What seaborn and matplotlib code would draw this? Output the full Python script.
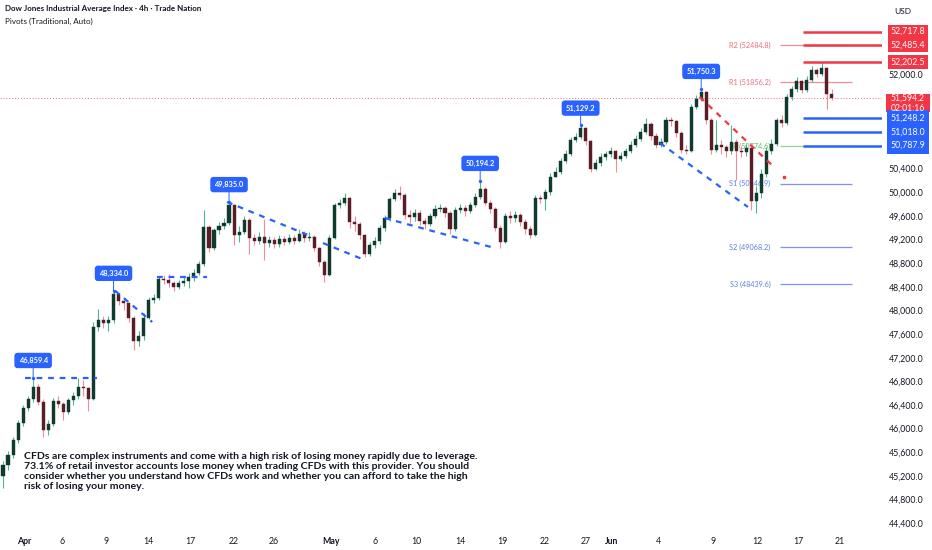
import matplotlib
matplotlib.use("Agg")
import matplotlib.pyplot as plt
import matplotlib.transforms as mtransforms
from matplotlib.patches import Rectangle
import numpy as np
import pandas as pd
import seaborn as sns

# candle data (resampled to ~3 bars per trading day)
first_open = 45200
closes = [
    45380, 45560, 45800, 46100, 46350, 46500, 46700, 46450, 45980, 46080,
    46470, 46420, 46280, 46480, 46560, 46700, 46680, 46500, 47720, 47830,
    47790, 47830, 48280, 48160, 48120, 47880, 47480, 47560, 47880, 48180,
    48210, 48540, 48510, 48470, 48390, 48460, 48500, 48560, 48640, 48780,
    49410, 49060, 49360, 49430, 49480, 49780, 49280, 49330, 49530, 49220,
    49170, 49250, 49140, 49190, 49120, 49200, 49160, 49230, 49180, 49300,
    49220, 49250, 49050, 48820, 48600, 49230, 49780, 49820, 49900, 49500,
    49460, 49280, 48960, 49100, 49170, 49400, 49560, 49880, 49990, 49960,
    49620, 49580, 49650, 49520, 49460, 49600, 49720, 49740, 49640, 49380,
    49700, 49740, 49680, 49780, 49920, 50050, 49820, 49720, 49400, 49160,
    49600, 49560, 49620, 49500, 49380, 49280, 49900, 49880, 50000, 50260,
    50340, 50530, 50650, 50880, 50930, 51080, 50860, 50400, 50500, 50600,
    50640, 50700, 50560, 50620, 50700, 50800, 50900, 51020, 51150, 50950,
    50800, 50850, 51220, 51200, 51000, 50720, 50700, 51450, 51580, 51700,
    51230, 50720, 50800, 50760, 50700, 50850, 50700, 50680, 50750, 49850,
    49990, 50300, 50700, 50820, 51220, 51170, 51610, 51750, 51880, 51730,
    51900, 52070, 52000, 52100, 51660, 51594.2,
]
highs = [
    45450, 45620, 45850, 46150, 46400, 46560, 46859.4, 46750, 46500, 46150,
    46520, 46550, 46450, 46520, 46620, 46850, 46820, 46700, 47800, 48020,
    47900, 47900, 48334.0, 48300, 48200, 48150, 47900, 47650, 47950, 48220,
    48280, 48580, 48600, 48620, 48500, 48520, 48580, 48640, 48700, 48830,
    49700, 49450, 49400, 49500, 49560, 49835.0, 49800, 49420, 49600, 49560,
    49300, 49320, 49550, 49260, 49240, 49280, 49260, 49300, 49280, 49380,
    49340, 49320, 49280, 49080, 48850, 49280, 49820, 49880, 49990, 49920,
    49600, 49500, 49300, 49150, 49250, 49450, 49620, 49920, 50050, 50100,
    49980, 49700, 49720, 49700, 49560, 49650, 49780, 49800, 49760, 49680,
    49750, 49800, 49780, 49830, 49980, 50194.2, 50080, 49860, 49750, 49450,
    49650, 49680, 49680, 49640, 49540, 49420, 49950, 49960, 50060, 50320,
    50420, 50580, 50720, 50930, 51000, 51129.2, 51100, 50880, 50560, 50660,
    50700, 50760, 50720, 50680, 50750, 50860, 50960, 51080, 51260, 51180,
    51000, 50920, 51280, 51280, 51230, 51030, 50800, 51500, 51640, 51750.3,
    51720, 51260, 51220, 50880, 50800, 51130, 50900, 50780, 50820, 50780,
    50100, 50400, 50760, 50900, 51260, 51300, 51660, 51800, 51950, 51900,
    51960, 52130, 52100, 52202.5, 52120, 51750,
]
lows = [
    45000, 45300, 45500, 45750, 46050, 46300, 46450, 46400, 45850, 45900,
    46050, 46350, 46150, 46250, 46400, 46500, 46550, 46300, 46480, 47650,
    47700, 47650, 47780, 48100, 48000, 47800, 47330, 47400, 47500, 47850,
    48120, 48180, 48450, 48400, 48330, 48360, 48420, 48380, 48500, 48600,
    48750, 48980, 49020, 49300, 49380, 49450, 49100, 49150, 49300, 48950,
    49100, 49120, 48850, 49080, 49050, 49080, 49100, 49120, 49120, 49150,
    49160, 49180, 49000, 48750, 48480, 48580, 49200, 49740, 49780, 49400,
    49350, 49200, 48900, 48920, 49050, 49120, 49350, 49520, 49850, 49880,
    49550, 49480, 49520, 49450, 49380, 49420, 49560, 49660, 49580, 49300,
    49350, 49650, 49600, 49640, 49750, 49880, 49780, 49650, 49350, 49060,
    49140, 49480, 49500, 49420, 49300, 49220, 49260, 49820, 49700, 49960,
    50250, 50300, 50500, 50620, 50850, 50900, 50800, 50350, 50380, 50450,
    50540, 50600, 50350, 50520, 50580, 50660, 50760, 50860, 50980, 50880,
    50740, 50760, 50820, 51120, 50940, 50660, 50640, 50680, 51400, 51540,
    51150, 50650, 50680, 50650, 50600, 50640, 50200, 50600, 50620, 49700,
    49650, 49900, 50250, 50650, 50780, 51100, 51140, 51560, 51700, 51680,
    51700, 51860, 51950, 51960, 51400, 51560,
]

# swing-high callouts (bar index, price)
peak_bars = [6, 22, 45, 95, 115, 139]
peak_prices = [46859.4, 48334.0, 49835.0, 50194.2, 51129.2, 51750.3]

# drawn trendlines: (bar0, price0, bar1, price1)
blue_trends = [
    (4.4, 46859.4, 18.7, 46859.4),
    (22.3, 48334.0, 29.7, 47804),
    (30.7, 48560, 40.6, 48560),
    (44.6, 49835.0, 61.7, 49242),
    (63.7, 49140, 71.5, 48870),
    (76.0, 49563, 97.9, 49056),
    (130.8, 50832, 148.3, 49750),
]
red_trends = [(138.7, 51611, 153.7, 50410)]
red_dot = (155.5, 50257)

# pivots (traditional)
pivot_names = ["R2", "R1", "P", "S1", "S2", "S3"]
pivot_values = [52484.8, 51856.2, 50774.6, 50146.9, 49068.2, 48439.6]

red_levels = [52717.8, 52485.4, 52202.5]
blue_levels = [51248.2, 51018.0, 50787.9]
last_price = 51594.2
countdown = "02:01:16"

# price-scale ticks that stay visible (the rest sit under the level tags)
scale_ticks = [44400, 44800, 45200, 45600, 46000, 46400, 46800, 47200, 47600,
               48000, 48400, 48800, 49200, 49600, 50000, 50400, 52000]

tick_labels = ["Apr", "6", "9", "14", "17", "22", "26", "May", "6", "10", "14",
               "19", "22", "27", "Jun", "4", "9", "12", "17", "21"]
tick_bars = [4.2, 11.7, 20.5, 28.9, 37.2, 46.0, 53.9, 65.3, 74.0, 82.2, 91.0,
             99.5, 107.9, 116.0, 121.2, 130.4, 141.3, 150.1, 158.4, 166.6]

disclaimer = ("CFDs are complex instruments and come with a high risk of losing money rapidly due to leverage.\n"
              "73.1% of retail investor accounts lose money when trading CFDs with this provider. You should\n"
              "consider whether you understand how CFDs work and whether you can afford to take the high\n"
              "risk of losing your money.")

# ---------------------------------------------------------------------------
sns.set_theme(style="white")
plt.rcParams['font.family'] = ['Lato', 'DejaVu Sans']

df = pd.DataFrame({"close": closes, "high": highs, "low": lows})
df["open"] = [first_open] + closes[:-1]
df["bar"] = np.arange(len(df))
df["up"] = df["close"] >= df["open"]

BLUE = "#2962ff"
RED = "#f23645"
TXT = "#131722"

fig = plt.figure(figsize=(9.32, 5.5), dpi=100)
ax = fig.add_axes([0, 19 / 550, 882 / 932, 531 / 550])
ax.set_xlim(-0.6, 175)
ax.set_ylim(44268, 53252)
for s in ax.spines.values():
    s.set_visible(False)

# candles
wick_col = np.where(df["up"], "#4fb592", "#ef8d9b")
body_col = np.where(df["up"], "#103a2e", "#5a1d26")
ax.vlines(df["bar"], df["low"], df["high"], colors=wick_col, lw=0.8, zorder=3)
body_h = np.maximum((df["close"] - df["open"]).abs(), 12)
ax.bar(df["bar"], body_h, bottom=df[["open", "close"]].min(axis=1), width=0.62,
       color=body_col, edgecolor=body_col, lw=0.3, zorder=4)

# current price dotted line
ax.axhline(last_price, color=RED, lw=0.7, ls=(0, (1, 2)), alpha=0.75, zorder=2)

# trendlines via seaborn
def seg_frame(segs):
    rows = []
    for k, (b0, p0, b1, p1) in enumerate(segs):
        rows.append({"seg": k, "bar": b0, "price": p0})
        rows.append({"seg": k, "bar": b1, "price": p1})
    return pd.DataFrame(rows)

sns.lineplot(data=seg_frame(blue_trends), x="bar", y="price", units="seg",
             estimator=None, color=BLUE, lw=1.6, linestyle=(0, (2.6, 2.6)),
             ax=ax, zorder=5, legend=False)
sns.lineplot(data=seg_frame(red_trends), x="bar", y="price", units="seg",
             estimator=None, color=RED, lw=1.6, linestyle=(0, (2.6, 2.6)),
             ax=ax, zorder=5, legend=False)
ax.plot([red_dot[0]], [red_dot[1]], marker="s", ms=2, color=RED, zorder=5)

# pivot lines + labels
piv_line_col = {"R": "#f28b9a", "P": "#8fd694", "S": "#7896f2"}
piv_txt_col = {"R": "#ef6b7e", "P": "#5cb860", "S": "#5a7de8"}
for name, val in zip(pivot_names, pivot_values):
    ax.hlines(val, 154.7, 169, color=piv_line_col[name[0]], lw=0.9, zorder=2)
    ax.text(152.8, val, f"{name} ({val:.1f})", ha="right", va="center",
            fontsize=5.2, color=piv_txt_col[name[0]], zorder=2)

# thick horizontal levels
for val in red_levels:
    ax.hlines(val, 159.2, 175, color=RED, lw=1.8, zorder=6)
for val in blue_levels:
    ax.hlines(val, 159.2, 175, color=BLUE, lw=1.8, zorder=6)

# peak callouts
sns.scatterplot(x=peak_bars, y=peak_prices, color=BLUE, s=6, ax=ax, zorder=7,
                linewidth=0, legend=False)
for b, p in zip(peak_bars, peak_prices):
    ax.annotate(f"{p:,.1f}", xy=(b, p), xytext=(0, 12.5), textcoords="offset points",
                ha="center", va="center", fontsize=5.4, color="white", weight="bold",
                bbox=dict(boxstyle="round,pad=0.55,rounding_size=0.4", fc=BLUE, ec="none"),
                arrowprops=dict(arrowstyle="-", color=BLUE, lw=0.7, shrinkA=0, shrinkB=0),
                zorder=8)

# right price scale
ax.yaxis.tick_right()
ax.set_yticks(scale_ticks)
ax.set_yticklabels([f"{v:,.1f}" for v in scale_ticks])
ax.tick_params(axis="y", length=0, pad=5, labelsize=6.3, labelcolor=TXT)
ax.set_ylabel("")

trans = mtransforms.blended_transform_factory(ax.transAxes, ax.transData)
xr = 908 / 882
for val in red_levels:
    ax.text(xr, val, f"{val:,.1f}", transform=trans, ha="center", va="center",
            fontsize=6.3, color="white", clip_on=False, zorder=10,
            bbox=dict(boxstyle="square,pad=0.28", fc=RED, ec="none"))
for val in blue_levels:
    ax.text(xr, val, f"{val:,.1f}", transform=trans, ha="center", va="center",
            fontsize=6.3, color="white", clip_on=False, zorder=10,
            bbox=dict(boxstyle="square,pad=0.4", fc=BLUE, ec="none"))

# last price tag: two-line red box, same width as the other tags
px_per_unit = 531 / (53252 - 44268)
tag_top = last_price + 4 / px_per_unit
tag_h = 18.5 / px_per_unit
ax.add_patch(Rectangle((886 / 882, tag_top - tag_h), 44 / 882, tag_h, transform=trans,
                       fc=RED, ec="none", clip_on=False, zorder=9))
ax.text(xr, tag_top - tag_h / 2, f"{last_price:,.1f}\n{countdown}", transform=trans,
        ha="center", va="center", fontsize=6.2, color="white", zorder=10,
        linespacing=1.1, clip_on=False)

# x axis
ax.set_xticks(tick_bars)
ax.set_xticklabels(tick_labels)
ax.tick_params(axis="x", length=0, pad=4, labelsize=6.3, labelcolor=TXT)
for lab in ax.get_xticklabels():
    if lab.get_text() in ("Apr", "May", "Jun"):
        lab.set_fontweight("bold")
ax.set_xlabel("")

# header and disclaimer
fig.text(5 / 932, 1 - 9 / 550, "Dow Jones Industrial Average Index · 4h · Trade Nation",
         fontsize=5.75, weight="bold", color=TXT, va="center")
fig.text(5 / 932, 1 - 21 / 550, "Pivots (Traditional, Auto)", fontsize=5.75,
         color=TXT, va="center")
fig.text(903 / 932, 1 - 11 / 550, "USD", fontsize=6, color=TXT, ha="center", va="center")
fig.text(24 / 932, 1 - 452 / 550, disclaimer, fontsize=7.55, weight="bold", color=TXT,
         va="top", linespacing=1.15)

fig.savefig("out.png", dpi=100, facecolor="white")
